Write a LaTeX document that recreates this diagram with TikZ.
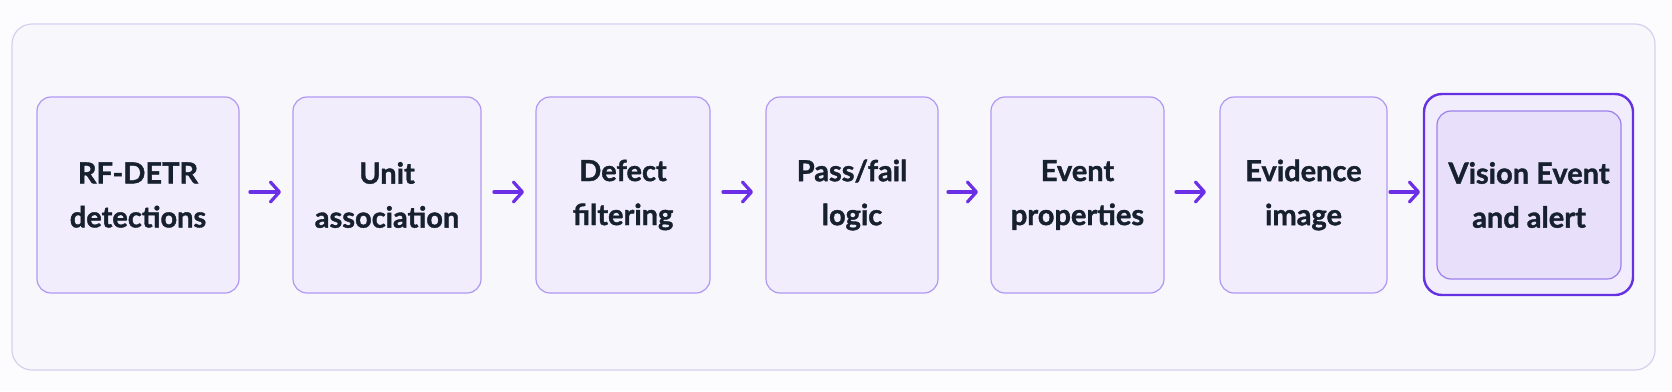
\documentclass[tikz,border=0pt]{standalone}
\usepackage{fontspec}
\setmainfont{Lato}[BoldFeatures={FakeBold=1.3}]
\usetikzlibrary{arrows.meta}
\definecolor{bgc}{HTML}{FCFCFE}
\definecolor{framefill}{HTML}{F8F7FC}
\definecolor{framedraw}{HTML}{D6D0EE}
\definecolor{boxfill}{HTML}{F2EDFD}
\definecolor{boxdraw}{HTML}{B098F2}
\definecolor{arrowc}{HTML}{6A2FE6}
\definecolor{txt}{HTML}{16202E}
\definecolor{lastdraw}{HTML}{6432E2}
\definecolor{lastin}{HTML}{9C80EC}
\definecolor{lastfill}{HTML}{E8E0FB}
\tikzset{
  px/.style={x=1pt,y=-1pt},
  stage/.style={draw=boxdraw, fill=boxfill, line width=1.2pt, rounded corners=14pt},
  lbl/.style={text=txt, font=\fontsize{29}{44}\selectfont\bfseries, align=center, inner sep=0pt},
  flow/.style={draw=arrowc, line width=3.2pt, line cap=round, -{Straight Barb[length=9pt,width=20pt,line width=3.2pt,round]}}
}
\begin{document}
\begin{tikzpicture}[px]
\useasboundingbox (0,0) rectangle (1672,391);
\fill[bgc] (0,0) rectangle (1672,391);
\draw[framedraw, fill=framefill, line width=1.2pt, rounded corners=20pt] (12,24) rectangle (1655,370);
% boxes
\path[stage] (37,97) rectangle (239,293);
\node[lbl] (b1) at (138,195) {RF-DETR\\detections};
\path[stage] (293,97) rectangle (481,293);
\node[lbl] (b2) at (387,195) {Unit\\association};
\path[stage] (536,97) rectangle (710,293);
\node[lbl] (b3) at (623,195) {Defect\\filtering};
\path[stage] (766,97) rectangle (938,293);
\node[lbl] (b4) at (852,195) {Pass/fail\\logic};
\path[stage] (991,97) rectangle (1164,293);
\node[lbl] (b5) at (1077.5,195) {Event\\properties};
\path[stage] (1220,97) rectangle (1387,293);
\node[lbl] (b6) at (1303.5,195) {Evidence\\image};
\draw[lastdraw, fill=boxfill, line width=2.4pt, rounded corners=18pt] (1424,94) rectangle (1633,295);
\draw[lastin, fill=lastfill, line width=1.2pt, rounded corners=14pt] (1437,111) rectangle (1621,279);
\node[lbl] (b7) at (1529,195) {Vision Event\\and alert};
% arrows
\coordinate (a1s) at (250,192); \coordinate (a1e) at (281,192);
\coordinate (a2s) at (494,192); \coordinate (a2e) at (524,192);
\coordinate (a3s) at (723,192); \coordinate (a3e) at (753,192);
\coordinate (a4s) at (948,192); \coordinate (a4e) at (978,192);
\coordinate (a5s) at (1176,192); \coordinate (a5e) at (1206,192);
\coordinate (a6s) at (1390,192); \coordinate (a6e) at (1420,192);
\foreach \i in {1,...,6} { \draw[flow] (a\i s) -- (a\i e); }
\end{tikzpicture}
\end{document}
